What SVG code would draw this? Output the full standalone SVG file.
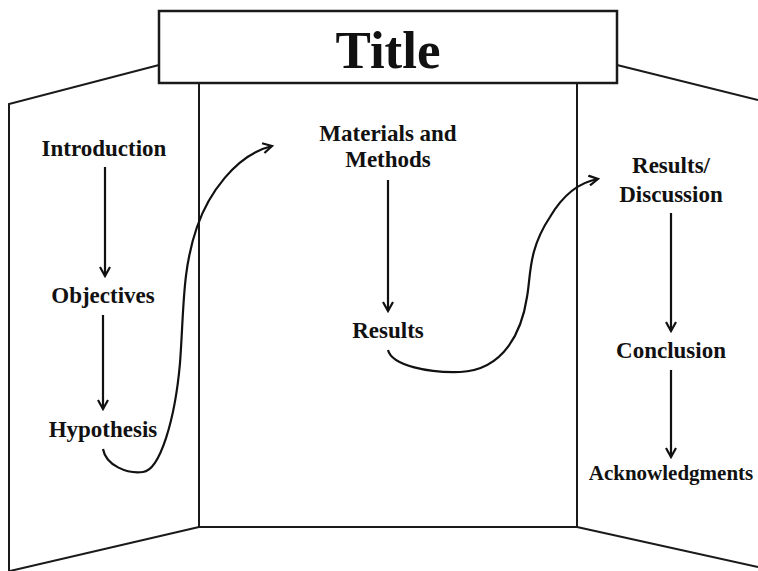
<svg xmlns="http://www.w3.org/2000/svg" width="758" height="571" viewBox="0 0 758 571">
<style>
.panel{fill:none;stroke:#1a1a1a;stroke-width:2}
.lbl{font-family:"Liberation Serif","Times New Roman",serif;font-weight:bold;font-size:23px;fill:#111;text-anchor:middle}
.conn{fill:none;stroke:#111;stroke-width:2.2;marker-end:url(#ah)}
</style>
<defs>
<marker id="ah" viewBox="0 0 12 12" refX="10" refY="6" markerWidth="12" markerHeight="12" markerUnits="userSpaceOnUse" orient="auto">
<path d="M1,1 L10,6 L1,11" fill="none" stroke="#111" stroke-width="2.2"/>
</marker>
</defs>
<rect width="758" height="571" fill="#fff"/>
<g id="board">
<path class="panel" d="M159,65 L9,104 L9,571"/>
<path class="panel" d="M199,527 L10,571"/>
<path class="panel" d="M617,65 L758,100"/>
<path class="panel" d="M577,527 L758,567"/>
<path class="panel" d="M199,83 L199,527 L577,527 L577,83"/>
</g>
<g id="title">
<rect x="159" y="11" width="458" height="72" fill="#fff" stroke="#1a1a1a" stroke-width="2.5"/>
<text x="388" y="68" class="lbl" style="font-size:53px">Title</text>
</g>
<g id="introduction"><text x="104" y="156" class="lbl">Introduction</text></g>
<g id="objectives"><text x="103" y="303" class="lbl">Objectives</text></g>
<g id="hypothesis"><text x="103" y="437" class="lbl">Hypothesis</text></g>
<g id="materials"><text x="388" y="141" class="lbl">Materials and</text><text x="388" y="167" class="lbl">Methods</text></g>
<g id="results"><text x="388" y="338" class="lbl">Results</text></g>
<g id="discussion"><text x="671" y="173" class="lbl">Results/</text><text x="671" y="202" class="lbl">Discussion</text></g>
<g id="conclusion"><text x="671" y="358" class="lbl">Conclusion</text></g>
<g id="acknowledgments"><text x="671" y="480" class="lbl" style="font-size:21px">Acknowledgments</text></g>
<g id="connectors">
<path class="conn" d="M105,167 L105,276"/>
<path class="conn" d="M103,315 L103,409"/>
<path class="conn" d="M388,180 L388,311"/>
<path class="conn" d="M671,213 L671,331"/>
<path class="conn" d="M671,370 L671,457"/>
<path class="conn" d="M103,449 C106,466 128,474 143,472 C160,470 175,420 180,363 C184,310 182,270 197,227 C208,195 235,155 272,146"/>
<path class="conn" d="M388,350 C392,366 430,373 460,372 C505,370 522,330 527,297 C531,275 528,250 550,217 C560,200 575,183 598,179"/>
</g>
</svg>
